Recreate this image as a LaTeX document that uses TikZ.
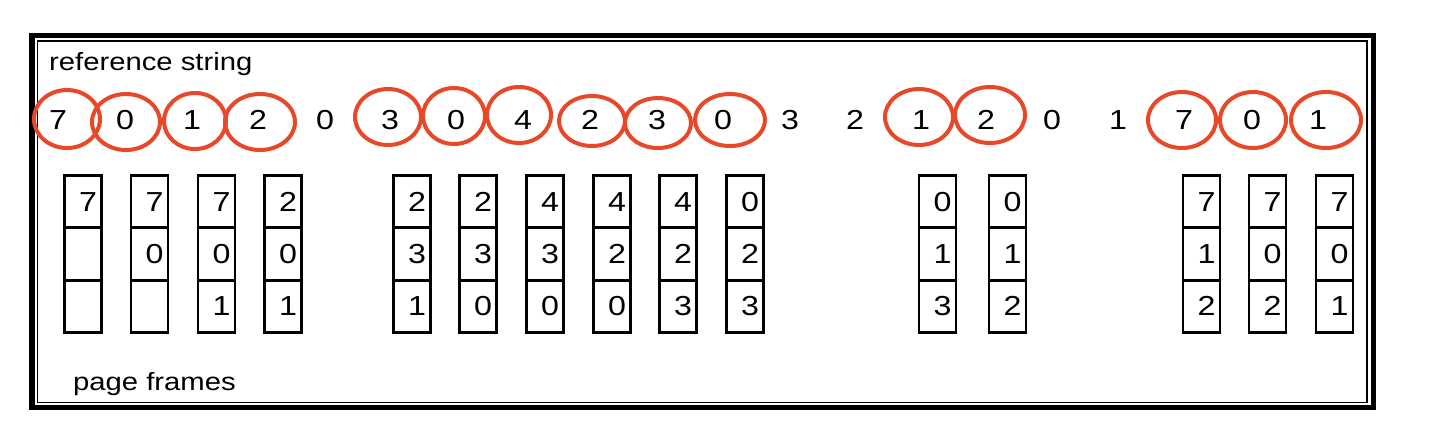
\documentclass[tikz,border=0pt]{standalone}
\usepackage{fontspec}
\newfontfamily\lab[FakeStretch=1.17]{Liberation Sans}
\usetikzlibrary{shapes.geometric}
\definecolor{ringred}{RGB}{232,72,40}
\begin{document}
\begin{tikzpicture}[x=1pt,y=-1pt,
  txt/.style={font=\lab\fontsize{25}{30}\selectfont, inner sep=0pt},
  dig/.style={font=\lab\fontsize{27.5}{30}\selectfont, inner sep=0pt},
  ring/.style={draw=ringred, line width=4pt, ellipse, inner sep=0pt},
  cell/.style={draw, line width=2.8pt, minimum width=37pt, minimum height=52.3pt,
    text width=28pt, align=right, inner xsep=4.5pt, inner ysep=0pt,
    font=\lab\fontsize{27.5}{30}\selectfont}]
\useasboundingbox (0,0) rectangle (1440,426);
% frame
\draw[line width=5.5pt] (32,35.5) rectangle (1373.5,407.5);
\draw[line width=1.4pt] (37.5,41) rectangle (1367,402.5);
% labels
\node[txt, anchor=base west] (lref) at (49,70) {reference string};
\node[txt, anchor=base west] (lpf) at (73,390) {page frames};
% reference string digits
\foreach \k/\x/\d in {0/58/7,1/125/0,2/192/1,3/258/2,4/325/0,5/390/3,6/456/0,7/523/4,8/590/2,9/657/3,
  10/723/0,11/790/3,12/855/2,13/921/1,14/986/2,15/1052/0,16/1118/1,17/1184/7,18/1252/0,19/1318/1}
  \node[dig] (r\k) at (\x,120) {\d};
% rings
\foreach \k/\x/\y/\rx/\ry in {0/67/119/33/29,1/126/122/34/28,2/195/121/31/28,3/260/122/35/28,
  5/388/117/33/28,6/454/116/31/28,7/519/115/32/28,8/592/121/33/25,9/658/123/33/25,10/730/120/35/26,
  13/919/117/34/28,14/990/115/35/28,17/1182/120/34/28,18/1253/120/33/28,19/1326/120/35/28}
  \node[ring, minimum width=2*\rx pt, minimum height=2*\ry pt] (e\k) at (\x,\y) {};
% page frame columns
\foreach \k/\x/\a/\b/\c in {0/83/7//,1/149.5/7/0/,2/216.5/7/0/1,3/283/2/0/1,
  5/412/2/3/1,6/478/2/3/0,7/545/4/3/0,8/612/4/2/0,9/678/4/2/3,10/745/0/2/3,
  13/937.5/0/1/3,14/1007.5/0/1/2,17/1201.5/7/1/2,18/1267.5/7/0/2,19/1334.5/7/0/1}
{
  \node[cell] (b\k a) at (\x,201.7) {\a};
  \node[cell] (b\k b) at (\x,254) {\b};
  \node[cell] (b\k c) at (\x,306.3) {\c};
}
\end{tikzpicture}
\end{document}
